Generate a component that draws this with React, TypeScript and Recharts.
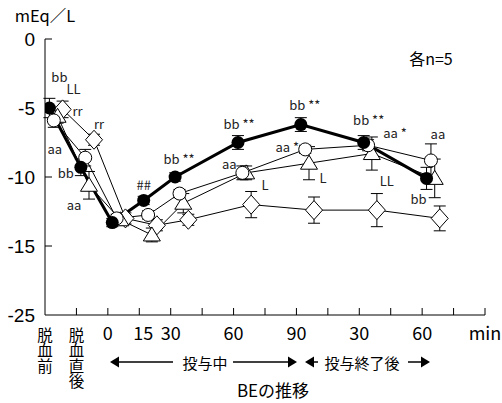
import { LineChart, Line, XAxis, YAxis, ErrorBar } from "recharts";

// x positions on the axis: 脱血前, 脱血直後, 0, 15, 30, 60, 90 min (投与中), 30, 60 min (投与終了後)
const positions = [0, 1, 2, 3, 4, 6, 8, 10, 12];
const xTicks = [0, 1, 2, 3, 4, 5, 6, 7, 8, 9, 10, 11, 12, 13, 14];
const xTickLabels = ["脱血前", "脱血直後", "0", "15", "30", "", "60", "", "90", "", "30", "", "60", "", "min"];
const yTicks = [0, -5, -10, -15, -20];
const yTickLabels = ["0", "-5", "-10", "-15", "-25"]; // axis is broken below -15

// BE (mEq/L), mean and SE
const filledBE = [-5.0, -9.3, -13.3, -11.7, -10.0, -7.5, -6.2, -7.5, -10.1];
const filledSE = [0.7, 0.6, 0.3, 0.3, 0.3, 0.5, 0.5, 0.5, 0.8];
const filledNotes = ["bb", "bb", "", "##", "bb **", "bb **", "bb **", "bb **", "bb"];

const openBE = [-5.9, -8.6, -13.0, -12.75, -11.2, -9.7, -8.0, -7.7, -8.8];
const openSE = [0.5, 0.6, 0.3, 0.3, 0.3, 0.5, 0.3, 0.4, 1.2];
const openNotes = ["aa", "", "", "", "", "aa", "aa *", "aa *", "aa"];

const triBE = [-5.6, -10.6, -13.1, -14.2, -11.9, -9.7, -9.0, -8.3, -10.1];
const triSE = [0.5, 1.0, 0.4, 0.5, 0.7, 0.5, 1.2, 1.2, 1.4];
const triNotes = ["LL", "aa", "", "", "", "L", "L", "LL", ""];

const diaBE = [-5.1, -7.3, -13.0, -13.5, -13.1, -12.0, -12.4, -12.4, -13.0];
const diaSE = [0.6, 0.4, 0.4, 0.4, 0.4, 0.95, 0.95, 1.2, 0.9];
const diaNotes = ["rr", "rr", "", "", "", "", "", "", ""];

// small horizontal stagger between groups so the markers don't sit on top of each other
const shift = { filled: 0.14, open: 0.28, tri: 0.4, dia: 0.56 };

// note placement relative to the marker (px)
const filledNoteOff = [[10, -32], [-15, 5], [0, 0], [0, -16], [4, -19], [1, -19], [4, -20], [5, -23], [-8, 20]];
const openNoteOff = [[1, 28], [0, 0], [0, 0], [0, 0], [0, 0], [-13, -9], [-18, -3], [27, -13], [7, -27]];
const triNoteOff = [[16, -28], [-15, 19], [0, 0], [0, 0], [0, 0], [19, 12], [14, 14], [15, 27], [0, 0]];
const diaNoteOff = [[15, 1], [5, -16], [0, 0], [0, 0], [0, 0], [0, 0], [0, 0], [0, 0], [0, 0]];

const FONT = "'Noto Sans CJK JP', 'Noto Sans', sans-serif";
const NUM_FONT = "'Liberation Sans', Arial, sans-serif";

const build = (vals: number[], errs: number[], notes: string[], dx: number) =>
  positions.map((p, i) => ({ x: p + dx, y: vals[i], e: errs[i], note: notes[i] }));

const filledData = build(filledBE, filledSE, filledNotes, shift.filled);
const openData = build(openBE, openSE, openNotes, shift.open);
const triData = build(triBE, triSE, triNotes, shift.tri);
const diaData = build(diaBE, diaSE, diaNotes, shift.dia);

function marker(kind: string, offs: number[][]) {
  return (p: any) => {
    const { cx, cy, index, payload } = p;
    let shape;
    if (kind === "filled") shape = <circle cx={cx} cy={cy} r={6.5} fill="#000" />;
    else if (kind === "open") shape = <circle cx={cx} cy={cy} r={6.5} fill="#fff" stroke="#000" strokeWidth={1} />;
    else if (kind === "tri")
      shape = (
        <polygon
          points={`${cx},${cy - 8} ${cx - 8.5},${cy + 6} ${cx + 8.5},${cy + 6}`}
          fill="#fff" stroke="#000" strokeWidth={1}
        />
      );
    else
      shape = (
        <polygon
          points={`${cx},${cy - 9.5} ${cx + 8.5},${cy} ${cx},${cy + 9.5} ${cx - 8.5},${cy}`}
          fill="#fff" stroke="#000" strokeWidth={1}
        />
      );
    const note = payload.note;
    const o = offs[index];
    return (
      <g key={`${kind}-${index}`}>
        {shape}
        {note ? (
          <text x={cx + o[0]} y={cy + o[1]} textAnchor="middle" dominantBaseline="central"
            fontSize={13} fontFamily={FONT} fill="#222">
            {note}
          </text>
        ) : null}
      </g>
    );
  };
}

const YTick = (p: any) => {
  const { x, y, payload, index } = p;
  return (
    <g>
      {payload.value !== -20 && <line x1={x} x2={x + 7} y1={y} y2={y} stroke="#000" />}
      <text x={x - 10} y={y} textAnchor="end" dominantBaseline="central" fontSize={19} fontFamily={NUM_FONT} fill="#000">
        {yTickLabels[index]}
      </text>
    </g>
  );
};

const XTick = (p: any) => {
  const { x, y, payload } = p;
  const label = xTickLabels[payload.value] ?? "";
  const vertical = payload.value < 2;
  return (
    <g>
      {payload.value !== 0 && <line x1={x} x2={x} y1={y} y2={y - 7} stroke="#000" />}
      {vertical ? (
        <text x={x} y={y + 12} textAnchor="start" fontSize={15.5} fontFamily={FONT} fill="#000"
          style={{ writingMode: "vertical-rl" }}>
          {label}
        </text>
      ) : (
        <text x={x + (label === "15" ? 4 : 0)} y={y + 17} textAnchor="middle" dominantBaseline="central"
          fontSize={18} fontFamily={FONT} fill="#000">
          {label}
        </text>
      )}
    </g>
  );
};

function Arrow({ from, to, y }: { from: number; to: number; y: number }) {
  const dir = to > from ? 1 : -1;
  return (
    <g>
      <line x1={from} x2={to - dir * 8} y1={y} y2={y} stroke="#000" strokeWidth={1.5} />
      <polygon points={`${to},${y} ${to - dir * 9},${y - 5.5} ${to - dir * 9},${y + 5.5}`} fill="#000" />
    </g>
  );
}

export default function App() {
  return (
    <div style={{ position: "absolute", left: 0, top: 0, width: 502, height: 403, background: "#fff" }}>
      <LineChart width={502} height={403} margin={{ top: 39, right: 17, left: 0, bottom: 28 }}>
        <XAxis
          dataKey="x" type="number" domain={[0, 14]} ticks={xTicks} interval={0}
          tickSize={0} tickMargin={0} tickLine={false} height={60}
          axisLine={{ stroke: "#000", strokeWidth: 1 }} tick={<XTick />} allowDataOverflow
        />
        <YAxis
          type="number" domain={[-20, 0]} ticks={yTicks} interval={0} width={45}
          tickSize={0} tickMargin={0} tickLine={false}
          axisLine={{ stroke: "#000", strokeWidth: 1 }} tick={<YTick />}
        />
        <Line data={diaData} dataKey="y" stroke="#000" strokeWidth={1} isAnimationActive={false}
          dot={marker("dia", diaNoteOff)} activeDot={false}>
          <ErrorBar dataKey="e" width={6} stroke="#000" strokeWidth={1} direction="y" isAnimationActive={false} />
        </Line>
        <Line data={triData} dataKey="y" stroke="#000" strokeWidth={1} isAnimationActive={false}
          dot={marker("tri", triNoteOff)} activeDot={false}>
          <ErrorBar dataKey="e" width={6} stroke="#000" strokeWidth={1} direction="y" isAnimationActive={false} />
        </Line>
        <Line data={openData} dataKey="y" stroke="#000" strokeWidth={1} isAnimationActive={false}
          dot={marker("open", openNoteOff)} activeDot={false}>
          <ErrorBar dataKey="e" width={6} stroke="#000" strokeWidth={1} direction="y" isAnimationActive={false} />
        </Line>
        <Line data={filledData} dataKey="y" stroke="#000" strokeWidth={3} isAnimationActive={false}
          dot={marker("filled", filledNoteOff)} activeDot={false}>
          <ErrorBar dataKey="e" width={6} stroke="#000" strokeWidth={1} direction="y" isAnimationActive={false} />
        </Line>
      </LineChart>
      <svg width={502} height={403} style={{ position: "absolute", left: 0, top: 0, pointerEvents: "none" }}>
        <text x={45} y={15} textAnchor="middle" dominantBaseline="central" fontSize={16.5} fontFamily={FONT}>mEq／L</text>
        <text x={431} y={58} textAnchor="middle" dominantBaseline="central" fontSize={16} fontFamily={FONT}>各n=5</text>
        <Arrow from={173} to={110} y={362} />
        <text x={205} y={362} textAnchor="middle" dominantBaseline="central" fontSize={15} fontFamily={FONT}>投与中</text>
        <Arrow from={233} to={297} y={362} />
        <Arrow from={318} to={305} y={362} />
        <text x={362} y={362} textAnchor="middle" dominantBaseline="central" fontSize={15} fontFamily={FONT}>投与終了後</text>
        <Arrow from={408} to={430} y={362} />
        <text x={273} y={389} textAnchor="middle" dominantBaseline="central" fontSize={17} fontFamily={FONT}>BEの推移</text>
      </svg>
    </div>
  );
}
